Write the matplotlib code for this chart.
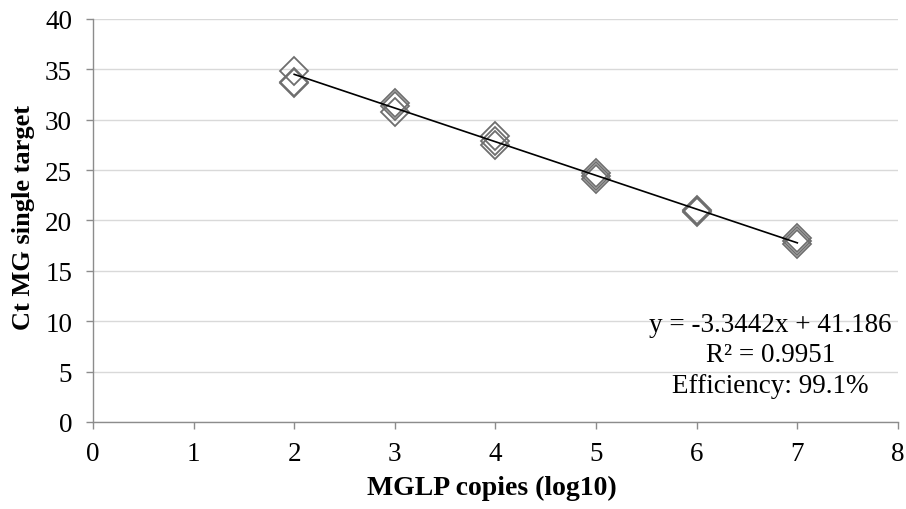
import matplotlib.pyplot as plt

plt.rcParams['font.family'] = ['Liberation Serif', 'DejaVu Serif']

# Ct values for the MGLP standard dilution series (triplicates)
log_copies = [2, 2, 2, 3, 3, 3, 4, 4, 4, 5, 5, 5, 6, 6, 6, 7, 7, 7]
ct_values = [34.8, 33.7, 33.6, 31.7, 31.4, 30.8, 28.4, 27.9, 27.5,
             24.7, 24.4, 24.1, 21.0, 20.9, 20.8, 18.3, 18.0, 17.7]

slope = -3.3442
intercept = 41.186
r_squared = 0.9951
efficiency = 99.1
fit_x = [2, 7]

fig = plt.figure(figsize=(9.06, 5.10), dpi=100)
ax = fig.add_axes([0.1026, 0.1706, 0.8885, 0.7904])

ax.plot(log_copies, ct_values, linestyle='none', marker='D', markersize=14,
        markerfacecolor='none', markeredgecolor='#6e6e6e', markeredgewidth=1.3,
        zorder=3)
ax.plot(fit_x, [slope * x + intercept for x in fit_x], color='black',
        linewidth=1.2, zorder=4)

ax.set_xlim(0, 8)
ax.set_ylim(0, 40)
ax.set_xticks(range(0, 9))
ax.set_yticks(range(0, 41, 5))
ax.yaxis.grid(True, color='#d9d9d9', linewidth=1.0)
ax.set_axisbelow(True)

for side in ['top', 'right']:
    ax.spines[side].set_visible(False)
for side in ['left', 'bottom']:
    ax.spines[side].set_color('#8c8c8c')
    ax.spines[side].set_linewidth(1.0)
ax.tick_params(direction='out', length=5, width=1.0, color='#8c8c8c',
               labelsize=19.5)
ax.tick_params(axis='y', pad=10)
ax.tick_params(axis='x', pad=9)

ax.set_xlabel('MGLP copies (log10)', fontsize=20, fontweight='bold')
ax.set_ylabel('Ct MG single target', fontsize=19, fontweight='bold')
ax.xaxis.set_label_coords(0.495, -0.131)
ax.yaxis.set_label_coords(-0.072, 0.51)

eq_text = (f'y = {slope}x + {intercept}\n'
           f'R² = {r_squared}\n'
           f'Efficiency: {efficiency}%')
ax.text(6.73, 6.65, eq_text, ha='center', va='center', fontsize=19.5,
        linespacing=1.28)

fig.savefig('out.png', dpi=100)
